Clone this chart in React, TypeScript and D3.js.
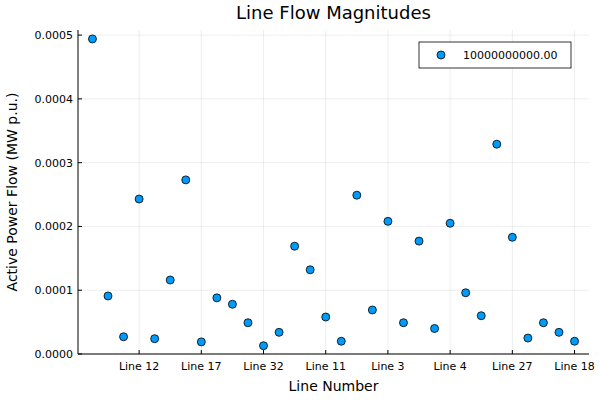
import * as React from "react";
import * as d3 from "d3";

// line flow magnitudes, in plotting order (1-based positions)
const flows = [
  0.000494, 0.000091, 0.000027, 0.000243, 0.000024, 0.000116, 0.000273, 0.000019,
  0.000088, 0.000078, 0.000049, 0.000013, 0.000034, 0.000169, 0.000132, 0.000058,
  0.00002, 0.000249, 0.000069, 0.000208, 0.000049, 0.000177, 0.00004, 0.000205,
  0.000096, 0.00006, 0.000329, 0.000183, 0.000025, 0.000049, 0.000034, 0.00002,
];
const tickPositions = [4, 8, 12, 16, 20, 24, 28, 32];
const tickNames = ["Line 12", "Line 17", "Line 32", "Line 11", "Line 3", "Line 4", "Line 27", "Line 18"];
const yTicks = [0, 0.0001, 0.0002, 0.0003, 0.0004, 0.0005];
const seriesName = "10000000000.00";

const W = 600, H = 400;
const m = { left: 78, right: 11, top: 30, bottom: 46 };
const font = "DejaVu Sans, sans-serif";

export default function App() {
  const x = d3.scaleLinear().domain([0.07, 32.93]).range([m.left, W - m.right]);
  const y = d3.scaleLinear().domain([0, 0.000508]).range([H - m.bottom, m.top]);
  const fill = "#009af9";
  return (
    <svg width={W} height={H} style={{ position: "absolute", left: 0, top: 0, fontFamily: font }}>
      <rect width={W} height={H} fill="white" />
      {tickPositions.map((t) => (
        <line key={"gx" + t} x1={x(t)} x2={x(t)} y1={m.top} y2={H - m.bottom} stroke="#000" strokeOpacity={0.07} />
      ))}
      {yTicks.map((t) => (
        <line key={"gy" + t} x1={m.left} x2={W - m.right} y1={y(t)} y2={y(t)} stroke="#000" strokeOpacity={0.07} />
      ))}
      <line x1={m.left} x2={W - m.right} y1={H - m.bottom} y2={H - m.bottom} stroke="#000" />
      <line x1={m.left} x2={m.left} y1={m.top} y2={H - m.bottom} stroke="#000" />
      {tickPositions.map((t, i) => (
        <g key={"tx" + t}>
          <line x1={x(t)} x2={x(t)} y1={H - m.bottom} y2={H - m.bottom - 4} stroke="#000" />
          <text x={x(t)} y={H - m.bottom + 16} fontSize={11} textAnchor="middle">{tickNames[i]}</text>
        </g>
      ))}
      {yTicks.map((t) => (
        <g key={"ty" + t}>
          <line x1={m.left} x2={m.left + 4} y1={y(t)} y2={y(t)} stroke="#000" />
          <text x={m.left - 5} y={y(t) + 4} fontSize={11} textAnchor="end">{t.toFixed(4)}</text>
        </g>
      ))}
      {flows.map((v, i) => (
        <circle key={i} cx={x(i + 1)} cy={y(v)} r={4} fill={fill} stroke="#000" strokeWidth={0.8} />
      ))}
      <text x={(m.left + W - m.right) / 2} y={19} fontSize={18} textAnchor="middle">Line Flow Magnitudes</text>
      <text x={(m.left + W - m.right) / 2} y={391} fontSize={14} textAnchor="middle">Line Number</text>
      <text transform={`translate(17,${(m.top + H - m.bottom) / 2}) rotate(-90)`} fontSize={14} textAnchor="middle">
        Active Power Flow (MW p.u.)
      </text>
      <rect x={419} y={42} width={152} height={26} fill="white" stroke="#000" strokeWidth={0.8} />
      <circle cx={441} cy={55} r={4} fill={fill} stroke="#000" strokeWidth={0.8} />
      <text x={463} y={59} fontSize={11}>{seriesName}</text>
    </svg>
  );
}
